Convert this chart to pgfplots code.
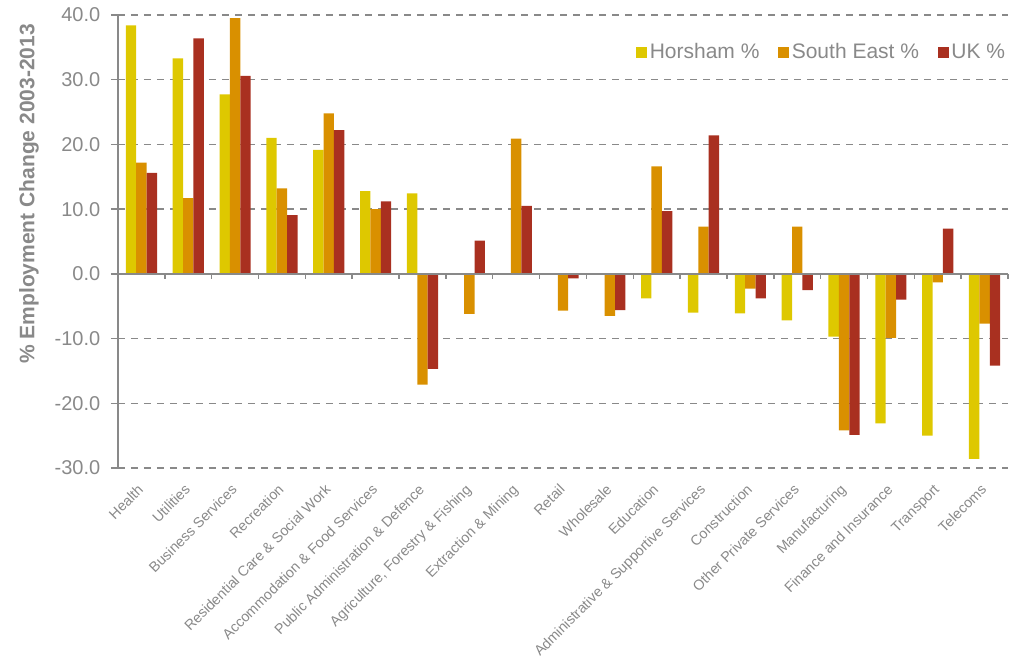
\documentclass[border=0pt]{standalone}
\usepackage{fontspec}
\setmainfont{Liberation Sans}
\usepackage{pgfplots}
\pgfplotsset{compat=1.18}

\definecolor{horsham}{RGB}{222,200,0}
\definecolor{southeast}{RGB}{217,144,0}
\definecolor{uk}{RGB}{169,48,32}
\definecolor{axisgray}{RGB}{137,137,137}

\begin{document}
\begin{tikzpicture}
\begin{axis}[
    scale only axis,
    width=667.5pt, height=339.75pt,
    ybar=0pt, bar width=7.8pt,
    xmin=-0.5, xmax=18.5,
    ymin=-30, ymax=40,
    axis x line*=bottom,
    axis y line*=left,
    x axis line style={draw=none},
    y axis line style={-, axisgray, line width=1.1pt},
    xtick={0,...,18},
    xtick style={draw=none},
    xticklabels={Health, Utilities, Business Services, Recreation,
        Residential Care \& Social Work, Accommodation \& Food Services,
        Public Administration \& Defence, {Agriculture, Forestry \& Fishing},
        Extraction \& Mining, Retail, Wholesale, Education,
        Administrative \& Supportive Services, Construction,
        Other Private Services, Manufacturing, Finance and Insurance,
        Transport, Telecoms},
    xticklabel style={yshift=-6pt, xshift=-3.5pt, rotate=45, anchor=north east,
        inner sep=0pt, text=axisgray,
        font=\fontsize{10.75}{12.5}\selectfont},
    ytick={-30,-20,...,40},
    ytick style={axisgray, line width=1.1pt},
    tick align=center,
    major tick length=10.5pt,
    yticklabel style={text=axisgray, xshift=-4.5pt,
        font=\fontsize{15}{17}\selectfont},
    /pgf/number format/.cd, fixed, fixed zerofill, precision=1,
        assume math mode=true,
    /pgfplots/.cd,
    ymajorgrids,
    grid style={axisgray, line width=1.1pt, dash pattern=on 5.25pt off 4.5pt},
    ylabel={\bfseries \% Employment Change 2003-2013},
    ylabel style={at={(axis description cs:-0.1, 0.605)}, anchor=center,
        text=axisgray, font=\fontsize{15.75}{18}\selectfont},
    legend columns=3,
    legend image code/.code={\fill[#1] (0pt,-4.1pt) rectangle (8.25pt,4.1pt);},
    legend style={at={(axis description cs:1,0.918)}, anchor=east,
        draw=none, fill=none, inner sep=0pt, text=axisgray,
        font=\fontsize{15.75}{18}\selectfont,
        /tikz/every even column/.append style={column sep=12pt}},
    clip=false,
]
\addplot[fill=horsham, draw=none] coordinates {
    (0,38.4) (1,33.3) (2,27.75) (3,21.0) (4,19.15) (5,12.8) (6,12.45)
    (7,0) (8,0) (9,0) (10,0) (11,-3.8) (12,-6.0) (13,-6.1) (14,-7.2)
    (15,-9.7) (16,-23.1) (17,-25.0) (18,-28.6)};
\addlegendentry{Horsham \%}
\addplot[fill=southeast, draw=none] coordinates {
    (0,17.2) (1,11.7) (2,39.5) (3,13.2) (4,24.8) (5,10.0) (6,-17.1)
    (7,-6.2) (8,20.9) (9,-5.7) (10,-6.5) (11,16.6) (12,7.3) (13,-2.3)
    (14,7.3) (15,-24.2) (16,-9.9) (17,-1.3) (18,-7.7)};
\addlegendentry{South East \%}
\addplot[fill=uk, draw=none] coordinates {
    (0,15.6) (1,36.4) (2,30.6) (3,9.07) (4,22.2) (5,11.2) (6,-14.7)
    (7,5.15) (8,10.5) (9,-0.7) (10,-5.6) (11,9.7) (12,21.4) (13,-3.8)
    (14,-2.5) (15,-24.9) (16,-4.0) (17,7.0) (18,-14.2)};
\addlegendentry{UK \%}
% zero line with category separators
\draw[axisgray, line width=1.1pt] (axis cs:-0.5,0) -- (axis cs:18.5,0);
\pgfplotsinvokeforeach{0.5,1.5,2.5,3.5,4.5,5.5,6.5,7.5,8.5,9.5,10.5,11.5,12.5,13.5,14.5,15.5,16.5,17.5,18.5}{
    \draw[axisgray, line width=1.1pt] (axis cs:#1,0) -- ([yshift=-3.5pt]axis cs:#1,0);
}
\end{axis}
\pgfresetboundingbox
\useasboundingbox (-88.5pt,-143.25pt) rectangle (675pt,351pt);
\end{tikzpicture}
\end{document}
